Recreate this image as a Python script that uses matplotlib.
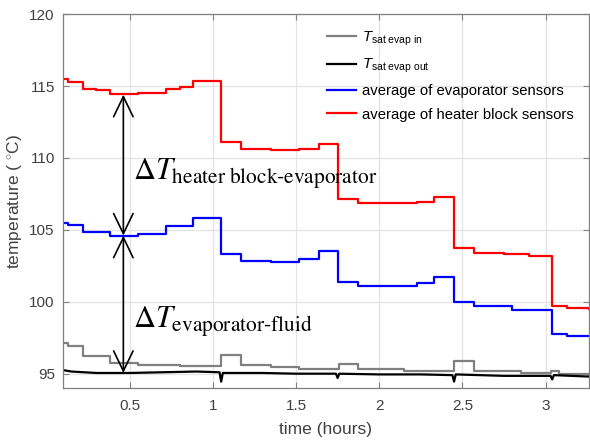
import matplotlib
matplotlib.use("Agg")
import matplotlib.pyplot as plt

# time in hours, temperatures in degC (piecewise steps)
t_heater = [0.10, 0.13, 0.22, 0.30, 0.38, 0.55, 0.72, 0.80, 0.88, 1.05, 1.17, 1.35, 1.52,
            1.64, 1.75, 1.87, 2.05, 2.23, 2.33, 2.45, 2.57, 2.75, 2.90, 3.04, 3.13, 3.26]
T_heater = [115.5, 115.3, 114.8, 114.7, 114.45, 114.5, 114.8, 114.9, 115.35, 111.1, 110.65,
            110.55, 110.65, 111.0, 107.15, 106.9, 106.85, 106.95, 107.3, 103.75, 103.4,
            103.3, 103.2, 99.7, 99.55, 99.5]

t_evap = [0.10, 0.13, 0.22, 0.38, 0.55, 0.72, 0.88, 1.05, 1.17, 1.35, 1.52, 1.64, 1.75,
          1.87, 2.23, 2.33, 2.45, 2.57, 2.80, 3.04, 3.13, 3.26]
T_evap = [105.5, 105.35, 104.85, 104.6, 104.7, 105.25, 105.8, 103.3, 102.85, 102.75, 103.0,
          103.55, 101.4, 101.1, 101.3, 101.75, 99.95, 99.7, 99.45, 97.75, 97.65, 97.6]

t_sat_in = [0.10, 0.13, 0.22, 0.38, 0.55, 0.80, 1.05, 1.17, 1.35, 1.52, 1.76, 1.87, 2.15,
            2.45, 2.57, 2.85, 3.03, 3.08, 3.26]
T_sat_in = [97.1, 96.95, 96.25, 95.75, 95.6, 95.55, 96.3, 95.6, 95.45, 95.35, 95.65, 95.3,
            95.2, 95.85, 95.2, 95.05, 95.2, 94.95, 94.9]

t_sat_out = [0.10, 0.15, 0.30, 0.50, 0.70, 0.90, 1.04, 1.05, 1.06, 1.30, 1.50, 1.74, 1.75,
             1.76, 2.00, 2.25, 2.44, 2.45, 2.46, 2.75, 3.03, 3.04, 3.05, 3.26]
T_sat_out = [95.25, 95.15, 95.05, 95.05, 95.1, 95.15, 95.1, 94.45, 95.05, 95.05, 95.0, 95.0,
             94.7, 95.0, 94.95, 94.95, 94.9, 94.45, 94.95, 94.85, 94.85, 94.6, 94.9, 94.8]

# arrow positions / levels for the delta-T markers
arrow_t = 0.462
lvl_heater = 114.4
lvl_evap = 104.6
lvl_fluid = 95.05

plt.rcParams['font.family'] = ['Liberation Sans', 'DejaVu Sans']
plt.rcParams['mathtext.fontset'] = 'custom'
plt.rcParams['mathtext.rm'] = 'Liberation Sans'
plt.rcParams['mathtext.it'] = 'Liberation Sans:italic'

fig = plt.figure(figsize=(5.9, 4.4), dpi=100)
ax = fig.add_axes([0.107, 0.118, 0.891, 0.850])

ax.plot(t_sat_in, T_sat_in, color='#808080', lw=1.6, drawstyle='steps-post',
        label=r'$T_{\rm sat\ evap\ in}$')
ax.plot(t_sat_out, T_sat_out, color='black', lw=1.6, label=r'$T_{\rm sat\ evap\ out}$')
ax.plot(t_evap, T_evap, color='#0000ff', lw=1.6, drawstyle='steps-post',
        label='average of evaporator sensors')
ax.plot(t_heater, T_heater, color='#ff0000', lw=1.6, drawstyle='steps-post',
        label='average of heater block sensors')

arrow_kw = dict(arrowstyle='<->,head_length=1.45,head_width=0.7', color='black',
                lw=1.2, shrinkA=0, shrinkB=0, mutation_scale=10)
ax.annotate('', xy=(arrow_t, lvl_heater), xytext=(arrow_t, lvl_evap), arrowprops=arrow_kw)
ax.annotate('', xy=(arrow_t, lvl_evap), xytext=(arrow_t, lvl_fluid), arrowprops=arrow_kw)

ax.text(0.522, 108.45, r'$\Delta T_{\mathrm{heater\ block}\text{-}\mathrm{evaporator}}$',
        fontsize=22, math_fontfamily='stix', va='baseline', ha='left')
ax.text(0.522, 98.2, r'$\Delta T_{\mathrm{evaporator}\text{-}\mathrm{fluid}}$',
        fontsize=22, math_fontfamily='stix', va='baseline', ha='left')

ax.set_xlim(0.1, 3.26)
ax.set_ylim(94.0, 120)
ax.set_xticks([0.5, 1, 1.5, 2, 2.5, 3])
ax.set_xticklabels(['0.5', '1', '1.5', '2', '2.5', '3'])
ax.set_yticks([95, 100, 105, 110, 115, 120])

ax.grid(True, color='#e3e3e3', lw=0.9)
ax.set_axisbelow(True)
for s in ax.spines.values():
    s.set_color('#7f7f7f')
    s.set_linewidth(0.9)
ax.tick_params(direction='in', length=4, top=True, right=True, colors='#7f7f7f',
               labelcolor='#404040', labelsize=11)
ax.tick_params(axis='x', pad=8)
ax.tick_params(axis='y', pad=6)

ax.set_xlabel('time (hours)', fontsize=12.5, color='#404040', labelpad=6)
ax.set_ylabel(r'temperature ( $^{\circ}$C)', fontsize=12.5, color='#404040', labelpad=4)

ax.legend(loc='upper left', bbox_to_anchor=(0.49, 0.975), frameon=False, fontsize=10.7,
          handlelength=2.0, handletextpad=0.4, labelspacing=0.62, borderaxespad=0)

fig.savefig('out.png', dpi=100)
